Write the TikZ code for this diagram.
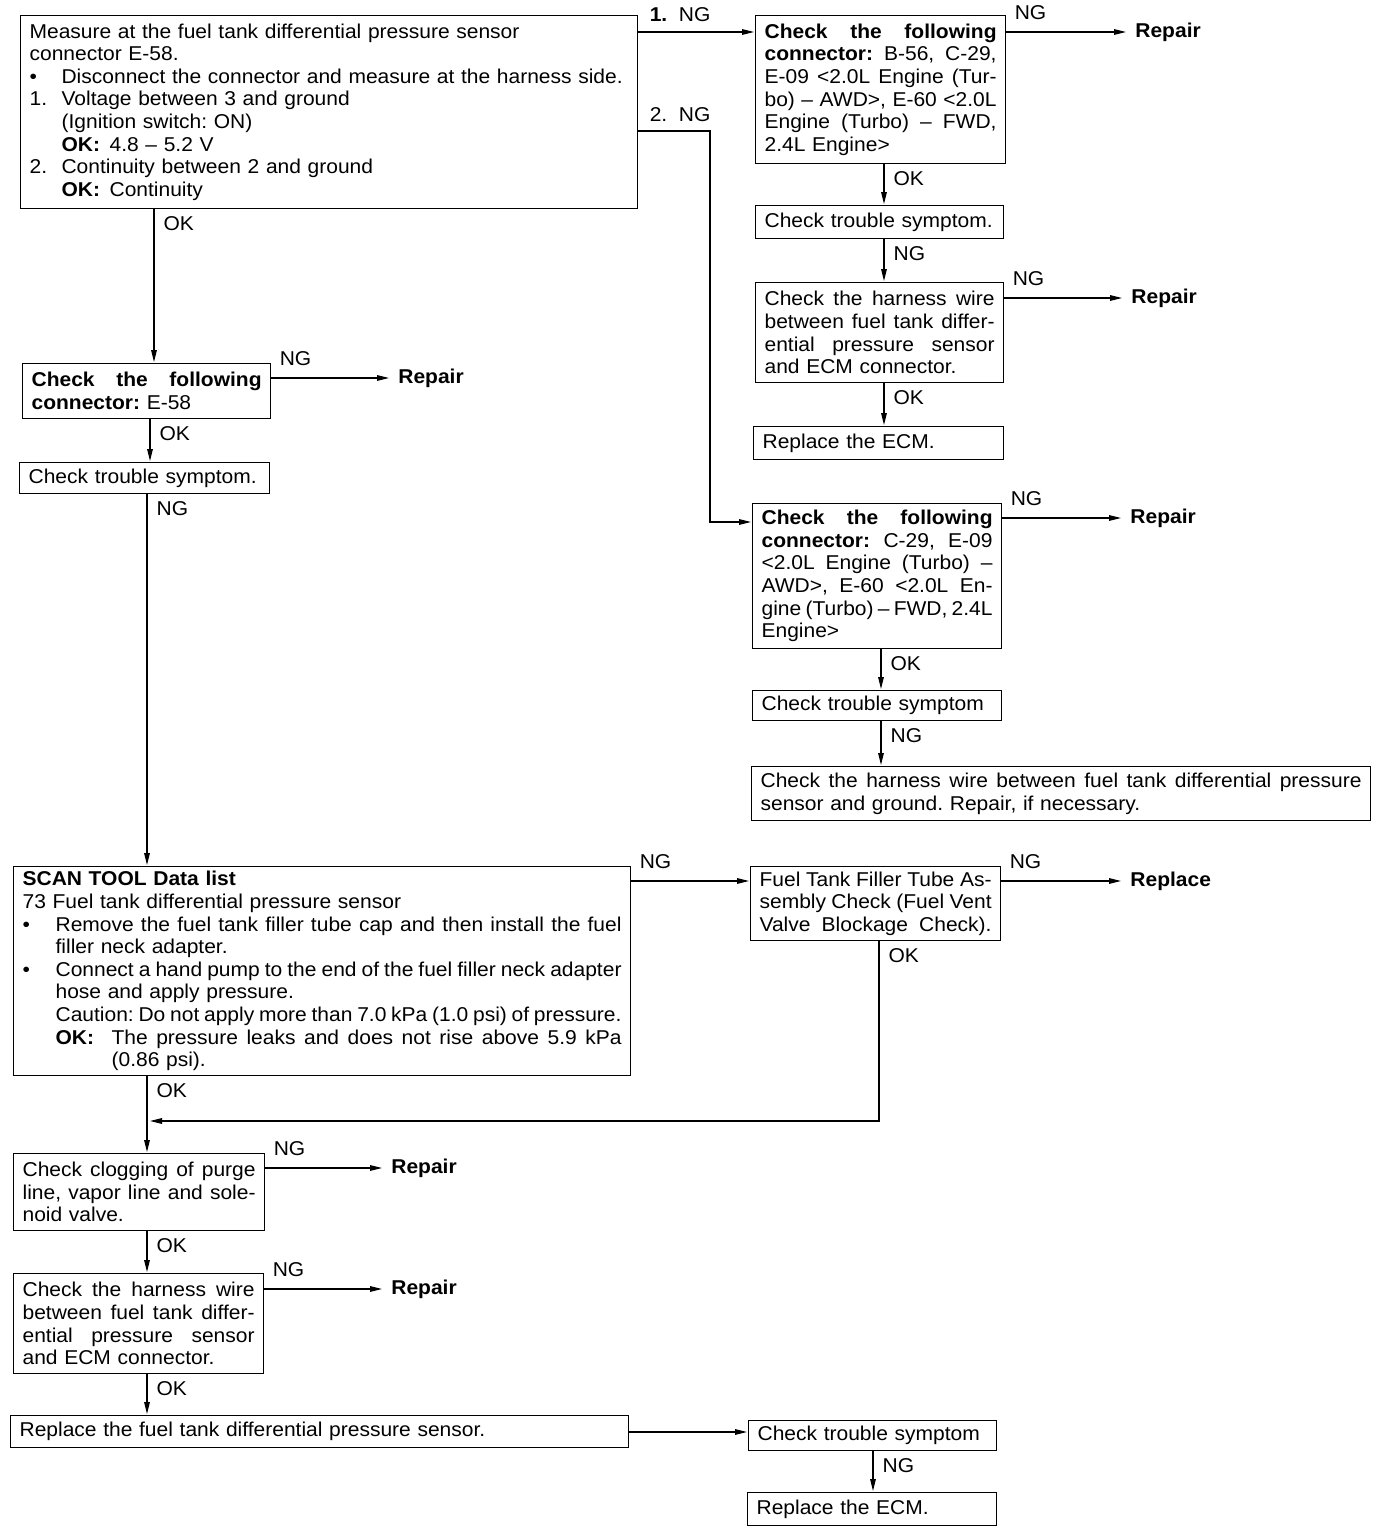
\documentclass[tikz,border=0pt]{standalone}
\usepackage{fontspec}
\setmainfont{Liberation Sans}[FakeStretch=1.05]
\usetikzlibrary{arrows.meta,calc}
\frenchspacing
\newcommand\jl[1]{\makebox[\tw pt][s]{\spaceskip=0pt\xspaceskip=0pt #1}}
\newcommand\bjl[3]{\makebox[#1][l]{#2}\makebox[\dimexpr\tw pt-#1\relax][s]{\spaceskip=0pt\xspaceskip=0pt #3}}
\newcommand\il[3]{\makebox[#1][l]{#2}#3}
\newcommand\bx[6]{%
  \pgfmathsetmacro\bw{#4*0.5}\pgfmathsetmacro\bh{#5*0.5}\pgfmathsetmacro\tw{#4*0.5-9}%
  \node[box,minimum width=\bw pt,minimum height=\bh pt,text width=\tw pt] (#1) at (#2,#3) {#6};}
\begin{document}
\begin{tikzpicture}[x=0.5pt,y=-0.5pt,
  font=\fontsize{10}{11.3}\selectfont\frenchspacing,
  box/.style={draw,line width=0.6pt,anchor=north west,inner xsep=4.5pt,inner ysep=1pt},
  arr/.style={-{Triangle[length=6pt,width=2.8pt]},line width=0.6pt,shorten >=0.5pt},
  ngl/.style={pos=0,anchor=south west,inner sep=0pt,xshift=4pt,yshift=6pt},
  okl/.style={pos=0,anchor=north west,inner sep=0pt,xshift=4.5pt,yshift=-3.5pt},
  rep/.style={anchor=west,inner xsep=4pt,inner ysep=1pt,font=\fontsize{10}{11.3}\selectfont\bfseries}]
\useasboundingbox (0,0) rectangle (1376,1532);

% ---------- boxes ----------
\bx{A}{20}{15}{617}{193}{Measure at the fuel tank differential pressure sensor\\
connector E-58.\\
\il{16pt}{\textbullet}{Disconnect the connector and measure at the harness side.}\\
\il{16pt}{1.}{Voltage between 3 and ground}\\
\hspace*{16pt}(Ignition switch: ON)\\
\hspace*{16pt}\il{24pt}{\textbf{OK:}}{4.8 – 5.2 V}\\
\il{16pt}{2.}{Continuity between 2 and ground}\\
\hspace*{16pt}\il{24pt}{\textbf{OK:}}{Continuity}}

\bx{B}{755}{15}{250}{148}{\jl{\textbf{Check the following}}\\
\jl{\textbf{connector:} B-56, C-29,}\\
\jl{E-09 <2.0L Engine (Tur-}\\
\jl{bo) – AWD>, E-60 <2.0L}\\
\jl{Engine (Turbo) – FWD,}\\
2.4L Engine>}

\bx{C}{755}{205}{248}{33}{Check trouble symptom.}

\bx{D}{755}{282}{248}{100}{\jl{Check the harness wire}\\
\jl{between fuel tank differ-}\\
\jl{ential pressure sensor}\\
and ECM connector.}

\bx{Dq}{753}{426}{250}{33}{Replace the ECM.}

\bx{E}{752}{503}{249}{145}{\jl{\textbf{Check the following}}\\
\jl{\textbf{connector:} C-29, E-09}\\
\jl{<2.0L Engine (Turbo) –}\\
\jl{AWD>, E-60 <2.0L En-}\\
\jl{gine (Turbo) – FWD, 2.4L}\\
Engine>}

\bx{F}{752}{690}{249}{30}{Check trouble symptom}

\bx{G}{751}{766}{619}{54}{\jl{Check the harness wire between fuel tank differential pressure}\\
sensor and ground. Repair, if necessary.}

\bx{H}{22}{363}{248}{55}{\jl{\textbf{Check the following}}\\
\textbf{connector:} E-58}

\bx{I}{19}{462}{250}{31}{Check trouble symptom.}

\bx{J}{13}{866}{617}{209}{\textbf{SCAN TOOL Data list}\\
73 Fuel tank differential pressure sensor\\
\bjl{16.5pt}{\textbullet}{Remove the fuel tank filler tube cap and then install the fuel}\\
\hspace*{16.5pt}filler neck adapter.\\
\bjl{16.5pt}{\textbullet}{Connect a hand pump to the end of the fuel filler neck adapter}\\
\hspace*{16.5pt}hose and apply pressure.\\
\bjl{16.5pt}{}{Caution: Do not apply more than 7.0 kPa (1.0 psi) of pressure.}\\
\bjl{44.5pt}{\hspace*{16.5pt}\textbf{OK:}}{The pressure leaks and does not rise above 5.9 kPa}\\
\hspace*{44.5pt}(0.86 psi).}

\bx{K}{750}{866}{250}{74}{\jl{Fuel Tank Filler Tube As-}\\
\jl{sembly Check (Fuel Vent}\\
\jl{Valve Blockage Check).}}

\bx{L}{13}{1153}{251}{77}{\jl{Check clogging of purge}\\
\jl{line, vapor line and sole-}\\
noid valve.}

\bx{M}{13}{1273}{250}{100}{\jl{Check the harness wire}\\
\jl{between fuel tank differ-}\\
\jl{ential pressure sensor}\\
and ECM connector.}

\bx{N}{10}{1415}{618}{32}{Replace the fuel tank differential pressure sensor.}

\bx{O}{748}{1420}{248}{30}{Check trouble symptom}

\bx{P}{747}{1492}{249}{33}{Replace the ECM.}

% ---------- result nodes ----------
\node[rep] (rB) at (1127,32) {Repair};
\node[rep] (rD) at (1123,298) {Repair};
\node[rep] (rE) at (1122,518) {Repair};
\node[rep] (rH) at (390,378) {Repair};
\node[rep] (rK) at (1122,881) {Replace};
\node[rep] (rL) at (383,1168) {Repair};
\node[rep] (rM) at (383,1289) {Repair};

% ---------- helper coordinates ----------
\coordinate (yAB) at (0,32);
\coordinate (y2) at (0,131);
\coordinate (k2) at (710,131);
\coordinate (k3) at (710,522);
\coordinate (yJK) at (0,881);
\coordinate (yNO) at (0,1432);
\coordinate (kk) at (879,1121);
\coordinate (cA) at (154,0);
\coordinate (cH) at (150,0);
\coordinate (cJ) at (147,0);
\coordinate (cB) at (884,0);
\coordinate (cE) at (881,0);
\coordinate (cK) at (879,0);
\coordinate (cO) at (873,0);

% ---------- connectors ----------
\draw[arr] (A.east |- yAB) -- node[ngl,xshift=1.5pt,yshift=-1pt]{\textbf{1.}\ \ NG} (B.west |- yAB);
\draw[arr] (A.east |- y2) -- node[ngl,xshift=1.5pt,yshift=-1.5pt]{2.\ \ NG} (k2) -- (k3) -- (E.west |- k3);

\draw[arr] (B.east |- rB.west) -- node[ngl]{NG} (rB.west);
\draw[arr] (B.south -| cB) -- node[okl]{OK} (C.north -| cB);
\draw[arr] (C.south -| cB) -- node[okl]{NG} (D.north -| cB);
\draw[arr] (D.east |- rD.west) -- node[ngl]{NG} (rD.west);
\draw[arr] (D.south -| cB) -- node[okl]{OK} (Dq.north -| cB);

\draw[arr] (E.east |- rE.west) -- node[ngl]{NG} (rE.west);
\draw[arr] (E.south -| cE) -- node[okl]{OK} (F.north -| cE);
\draw[arr] (F.south -| cE) -- node[okl]{NG} (G.north -| cE);

\draw[arr] (A.south -| cA) -- node[okl]{OK} (H.north -| cA);
\draw[arr] (H.east |- rH.west) -- node[ngl]{NG} (rH.west);
\draw[arr] (H.south -| cH) -- node[okl]{OK} (I.north -| cH);
\draw[arr] (I.south -| cJ) -- node[okl]{NG} (J.north -| cJ);

\draw[arr] (J.east |- yJK) -- node[ngl]{NG} (K.west |- yJK);
\draw[arr] (K.east |- rK.west) -- node[ngl]{NG} (rK.west);
\draw[arr,shorten >=1.5pt] (K.south -| cK) -- node[okl]{OK} (kk) -- (kk -| cJ);
\draw[arr] (J.south -| cJ) -- node[okl]{OK} (L.north -| cJ);

\draw[arr] (L.east |- rL.west) -- node[ngl]{NG} (rL.west);
\draw[arr] (L.south -| cJ) -- node[okl]{OK} (M.north -| cJ);
\draw[arr] (M.east |- rM.west) -- node[ngl]{NG} (rM.west);
\draw[arr] (M.south -| cJ) -- node[okl]{OK} (N.north -| cJ);

\draw[arr] (N.east |- yNO) -- (O.west |- yNO);
\draw[arr] (O.south -| cO) -- node[okl]{NG} (P.north -| cO);
\end{tikzpicture}
\end{document}
